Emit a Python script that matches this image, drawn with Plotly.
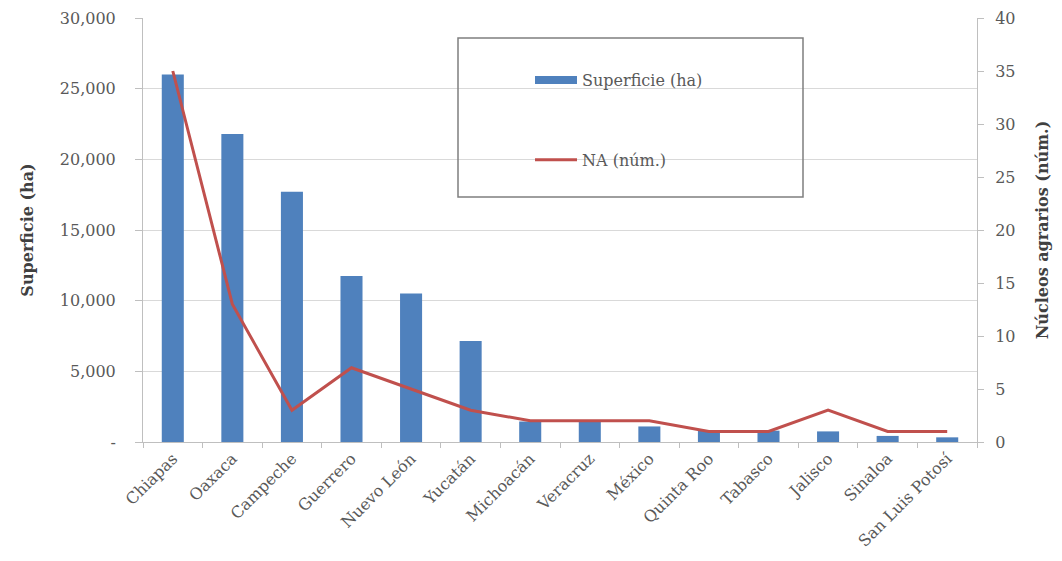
import plotly.graph_objects as go

estados = ["Chiapas", "Oaxaca", "Campeche", "Guerrero", "Nuevo León", "Yucatán",
           "Michoacán", "Veracruz", "México", "Quinta Roo", "Tabasco", "Jalisco",
           "Sinaloa", "San Luis Potosí"]
superficie_ha = [26000, 21800, 17700, 11750, 10500, 7150, 1450, 1500, 1100, 800, 800, 750, 430, 330]
na_num = [35, 13, 3, 7, 5, 3, 2, 2, 2, 1, 1, 3, 1, 1]

left_ticks = [0, 5000, 10000, 15000, 20000, 25000, 30000]
left_labels = ["-", "5,000", "10,000", "15,000", "20,000", "25,000", "30,000"]
right_ticks = [0, 5, 10, 15, 20, 25, 30, 35, 40]

FONT = "DejaVu Serif"
GRAY = "#595959"
BLUE = "#4F81BD"
RED = "#C0504D"

fig = go.Figure()
fig.add_trace(go.Bar(
    x=estados, y=superficie_ha, name="Superficie (ha)",
    marker=dict(color=BLUE, line=dict(width=0)),
    width=0.37, showlegend=False, yaxis="y"))
# legend entry for the bars (thick bar-like swatch as in the original)
fig.add_trace(go.Scatter(
    x=[None], y=[None], name="Superficie (ha)", mode="lines",
    line=dict(color=BLUE, width=8), legendgroup="a", yaxis="y"))
fig.add_trace(go.Scatter(
    x=estados, y=na_num, name="NA (núm.)", mode="lines",
    line=dict(color=RED, width=3), legendgroup="b", yaxis="y2"))

# the page body has an 8px margin, so the figure is shifted by 8px
W, H = 1054, 553
L, R, T, B = 135, 85, 10, 119
pw = W - L - R
ph = H - T - B

fig.update_layout(
    width=W, height=H,
    paper_bgcolor="white", plot_bgcolor="white",
    margin=dict(l=L, r=R, t=T, b=B, autoexpand=False),
    font=dict(family=FONT, size=15, color=GRAY),
    showlegend=True,
    legend=dict(x=(530 - 143) / pw, y=1 - (63 - 18) / ph, xanchor="left", yanchor="top",
                bgcolor="rgba(0,0,0,0)", tracegroupgap=56, itemwidth=42,
                font=dict(family=FONT, size=16, color=GRAY)),
    xaxis=dict(type="category", tickangle=-45, showgrid=False, automargin=False,
               showline=True, linecolor="#BFBFBF", linewidth=1,
               ticks="outside", tickson="boundaries", ticklen=5, tickcolor="#BFBFBF",
               tickfont=dict(family=FONT, size=16, color=GRAY),
               range=[-0.5, 13.5]),
    yaxis=dict(range=[0, 30000], tickvals=left_ticks, ticktext=left_labels,
               showgrid=True, gridcolor="#D9D9D9", gridwidth=1, automargin=False,
               showline=True, linecolor="#BFBFBF", linewidth=1,
               ticks="outside", ticklen=7, tickcolor="#BFBFBF",
               ticklabelstandoff=16,
               tickfont=dict(family=FONT, size=16, color=GRAY),
               zeroline=False,
               title=dict(text="<b>Superficie (ha)</b>", standoff=22,
                          font=dict(family=FONT, size=16, color="#404040"))),
    yaxis2=dict(range=[0, 40], tickvals=right_ticks, overlaying="y", side="right",
                showgrid=False, showline=True, linecolor="#BFBFBF", linewidth=1,
                ticks="outside", ticklen=6, tickcolor="#BFBFBF", zeroline=False,
                ticklabelstandoff=8, automargin=False,
                tickfont=dict(family=FONT, size=16, color=GRAY),
                title=dict(text="<b>Núcleos agrarios (núm.)</b>", standoff=22,
                           font=dict(family=FONT, size=16, color="#404040"))),
)

# legend frame
fig.add_shape(type="rect", xref="paper", yref="paper",
              x0=(458 - 143) / pw, x1=(803 - 143) / pw,
              y0=(442 - 197) / ph, y1=(442 - 38) / ph,
              line=dict(color="#7F7F7F", width=1.5), fillcolor="rgba(0,0,0,0)")

fig.write_html("out.html")
